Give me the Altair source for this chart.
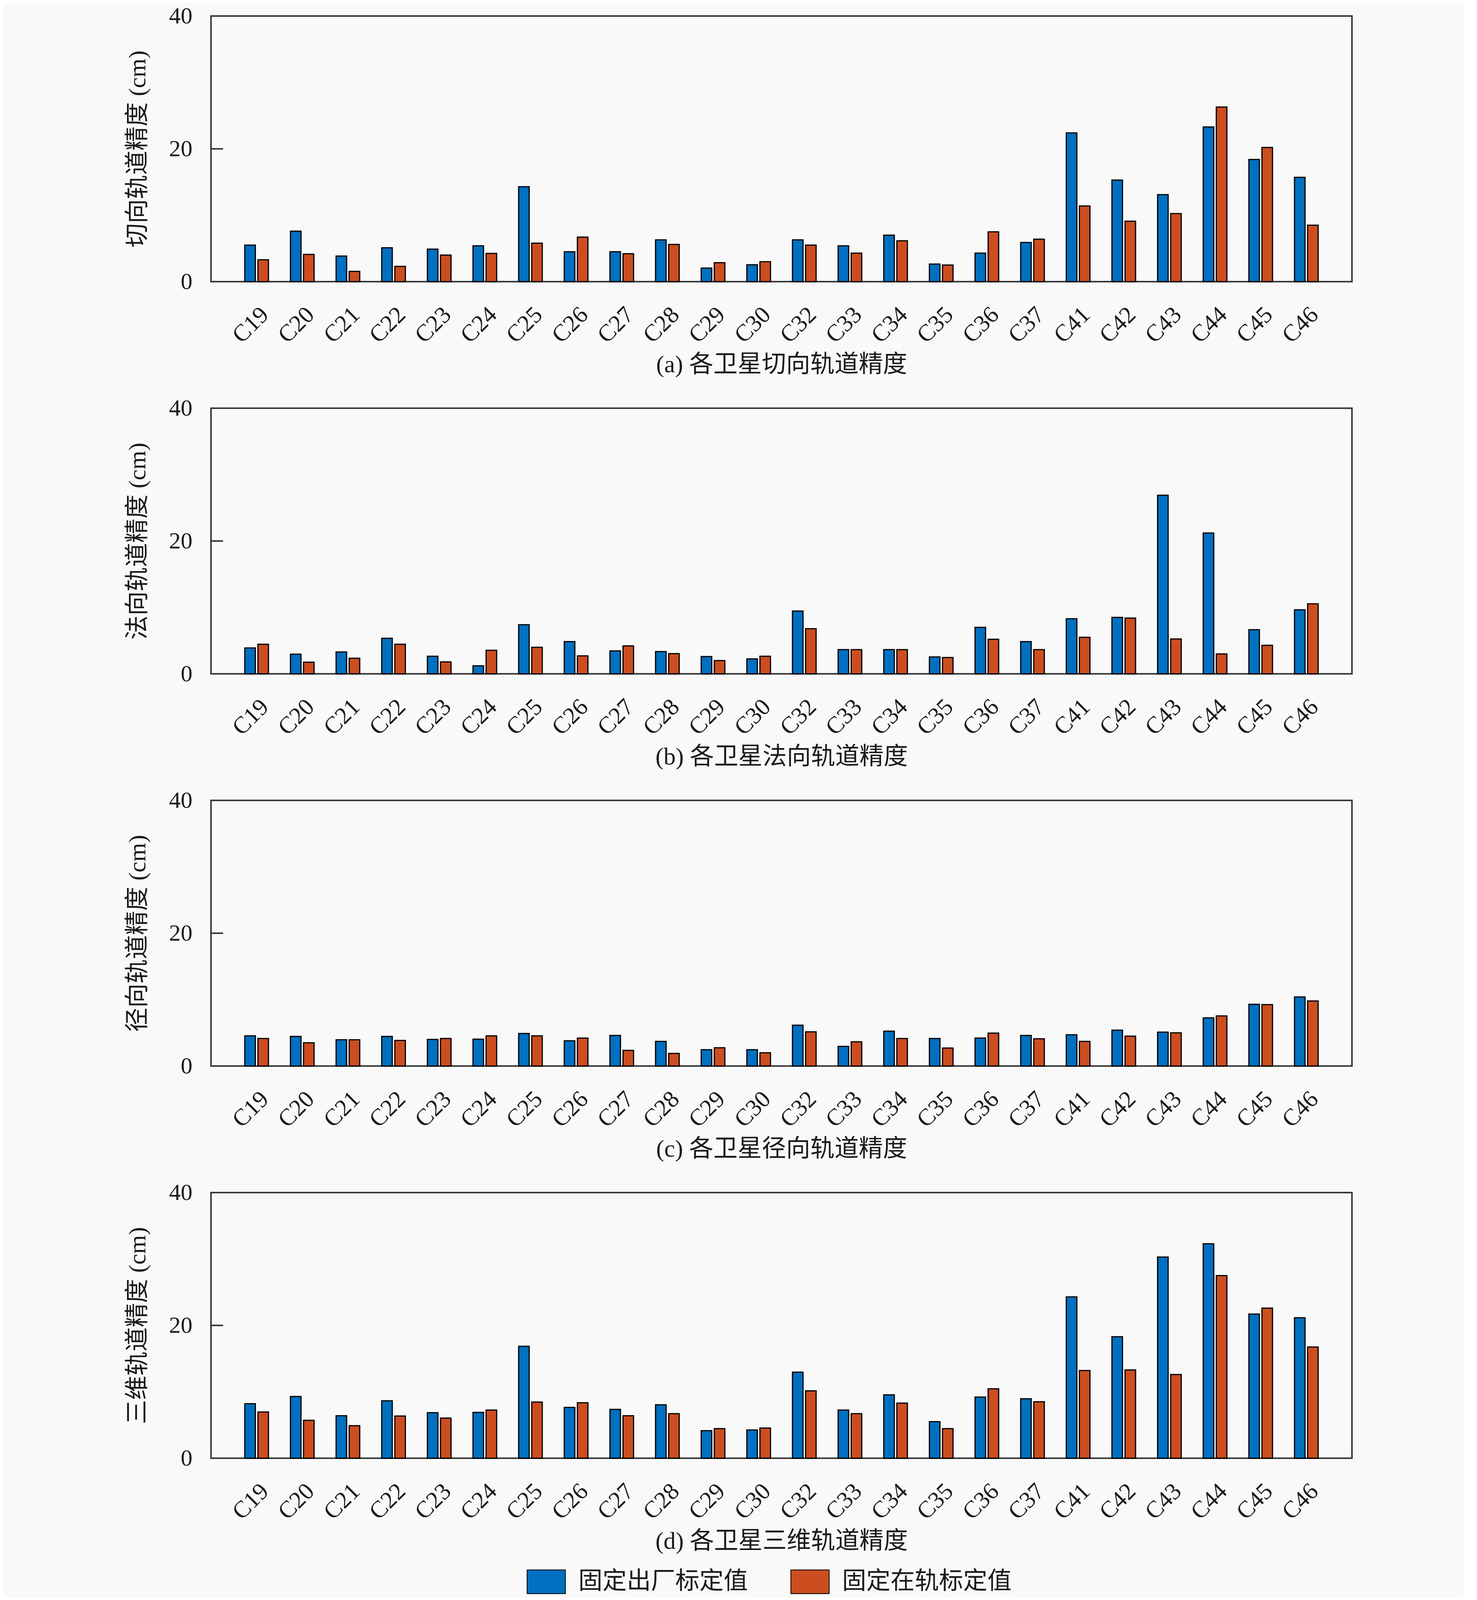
import altair as alt
import pandas as pd

cats = ["C19", "C20", "C21", "C22", "C23", "C24", "C25", "C26", "C27", "C28", "C29", "C30",
        "C32", "C33", "C34", "C35", "C36", "C37", "C41", "C42", "C43", "C44", "C45", "C46"]
series = ["固定出厂标定值", "固定在轨标定值"]
colors = ["#0070C0", "#CC4E20"]

# (a) along-track
a_factory = [5.5, 7.6, 3.85, 5.1, 4.9, 5.4, 14.3, 4.5, 4.5, 6.3, 2.05, 2.55,
             6.3, 5.4, 7.0, 2.65, 4.3, 5.9, 22.4, 15.3, 13.1, 23.3, 18.4, 15.7]
a_orbit = [3.3, 4.1, 1.55, 2.3, 4.0, 4.25, 5.8, 6.7, 4.2, 5.6, 2.85, 3.0,
           5.5, 4.3, 6.15, 2.5, 7.5, 6.4, 11.4, 9.1, 10.25, 26.3, 20.2, 8.5]
# (b) cross-track
b_factory = [3.9, 2.95, 3.3, 5.35, 2.65, 1.2, 7.4, 4.85, 3.45, 3.35, 2.6, 2.25,
             9.45, 3.65, 3.65, 2.55, 7.0, 4.85, 8.3, 8.5, 26.9, 21.2, 6.65, 9.65]
b_orbit = [4.45, 1.75, 2.35, 4.45, 1.8, 3.55, 4.0, 2.7, 4.2, 3.05, 2.0, 2.65,
           6.8, 3.65, 3.65, 2.45, 5.2, 3.65, 5.5, 8.4, 5.25, 3.0, 4.3, 10.55]
# (c) radial
c_factory = [4.55, 4.45, 3.95, 4.45, 4.0, 4.05, 4.9, 3.8, 4.6, 3.7, 2.45, 2.45,
             6.15, 2.95, 5.25, 4.15, 4.2, 4.6, 4.7, 5.4, 5.1, 7.25, 9.3, 10.4]
c_orbit = [4.15, 3.5, 3.95, 3.85, 4.15, 4.55, 4.55, 4.2, 2.35, 1.9, 2.75, 2.0,
           5.15, 3.65, 4.15, 2.7, 4.95, 4.1, 3.7, 4.5, 5.0, 7.55, 9.25, 9.8]
# (d) 3D
d_factory = [8.2, 9.3, 6.4, 8.65, 6.85, 6.9, 16.85, 7.65, 7.35, 8.05, 4.15, 4.25,
             12.95, 7.25, 9.55, 5.5, 9.2, 8.95, 24.3, 18.3, 30.3, 32.3, 21.7, 21.15]
d_orbit = [6.95, 5.7, 4.9, 6.35, 6.05, 7.25, 8.45, 8.35, 6.4, 6.7, 4.45, 4.55,
           10.15, 6.7, 8.3, 4.45, 10.45, 8.5, 13.2, 13.3, 12.6, 27.5, 22.6, 16.75]

y_titles = ["切向轨道精度 (cm)", "法向轨道精度 (cm)", "径向轨道精度 (cm)", "三维轨道精度 (cm)"]
x_titles = ["(a) 各卫星切向轨道精度", "(b) 各卫星法向轨道精度",
            "(c) 各卫星径向轨道精度", "(d) 各卫星三维轨道精度"]
y_ticks = [0, 20, 40]

FONT = "Liberation Serif, Noto Sans CJK SC"
PLOT_W = 2920
PLOT_H = 680


def panel(v1, v2, ytitle, xtitle):
    df = pd.DataFrame({
        "sat": cats + cats,
        "series": [series[0]] * len(cats) + [series[1]] * len(cats),
        "value": v1 + v2,
    })
    bars = alt.Chart(df).mark_bar(stroke="black", strokeWidth=3).encode(
        x=alt.X("sat:N", sort=cats,
                scale=alt.Scale(paddingInner=0, paddingOuter=0.5),
                axis=alt.Axis(title=xtitle, labelAngle=315, labelAlign="right",
                              labelBaseline="top", labelPadding=54, labelOffset=0,
                              labelFontSize=61, ticks=False, domain=False,
                              titleFontSize=62, titlePadding=14, titleFontWeight="normal",
                              labelColor="#1a1a1a", titleColor="#1a1a1a")),
        xOffset=alt.XOffset("series:N", sort=series,
                            scale=alt.Scale(paddingInner=0.194, paddingOuter=0.84)),
        y=alt.Y("value:Q", scale=alt.Scale(domain=[0, 40], nice=False),
                axis=alt.Axis(title=ytitle, values=y_ticks, grid=False, ticks=False,
                              domain=False, labelFontSize=60, labelPadding=48,
                              titleFontSize=62, titlePadding=48, titleFontWeight="normal",
                              labelColor="#1a1a1a", titleColor="#1a1a1a")),
        color=alt.Color("series:N", sort=series,
                        scale=alt.Scale(domain=series, range=colors),
                        legend=alt.Legend(title=None, orient="none", direction="horizontal",
                                          legendX=808, legendY=3958)),
    )
    tick = alt.Chart(pd.DataFrame({"t": [20]})).mark_rule(
        color="#3a3a3a", strokeWidth=4
    ).encode(y=alt.Y("t:Q"), x=alt.value(0), x2=alt.value(31))
    return alt.layer(bars, tick).properties(width=PLOT_W, height=PLOT_H)


chart = alt.vconcat(
    panel(a_factory, a_orbit, y_titles[0], x_titles[0]),
    panel(b_factory, b_orbit, y_titles[1], x_titles[1]),
    panel(c_factory, c_orbit, y_titles[2], x_titles[2]),
    panel(d_factory, d_orbit, y_titles[3], x_titles[3]),
    spacing=46,
).properties(
    padding={"left": 311, "top": 1, "right": 283, "bottom": 5},
    background="#f9f9f9",
).configure(
    font=FONT,
).configure_view(
    stroke="#3a3a3a", strokeWidth=4, fill="#f9f9f9",
).configure_legend(
    symbolType="M-1,-0.62H1V0.62H-1Z",
    symbolSize=9604,
    symbolStrokeColor="black",
    symbolStrokeWidth=2,
    symbolOpacity=1,
    labelFontSize=62,
    labelOffset=32,
    columnPadding=105,
    labelColor="#1a1a1a",
    padding=0,
    labelLimit=1000,
)

chart.save("out.html", embed_options={"renderer": "svg", "actions": False})
